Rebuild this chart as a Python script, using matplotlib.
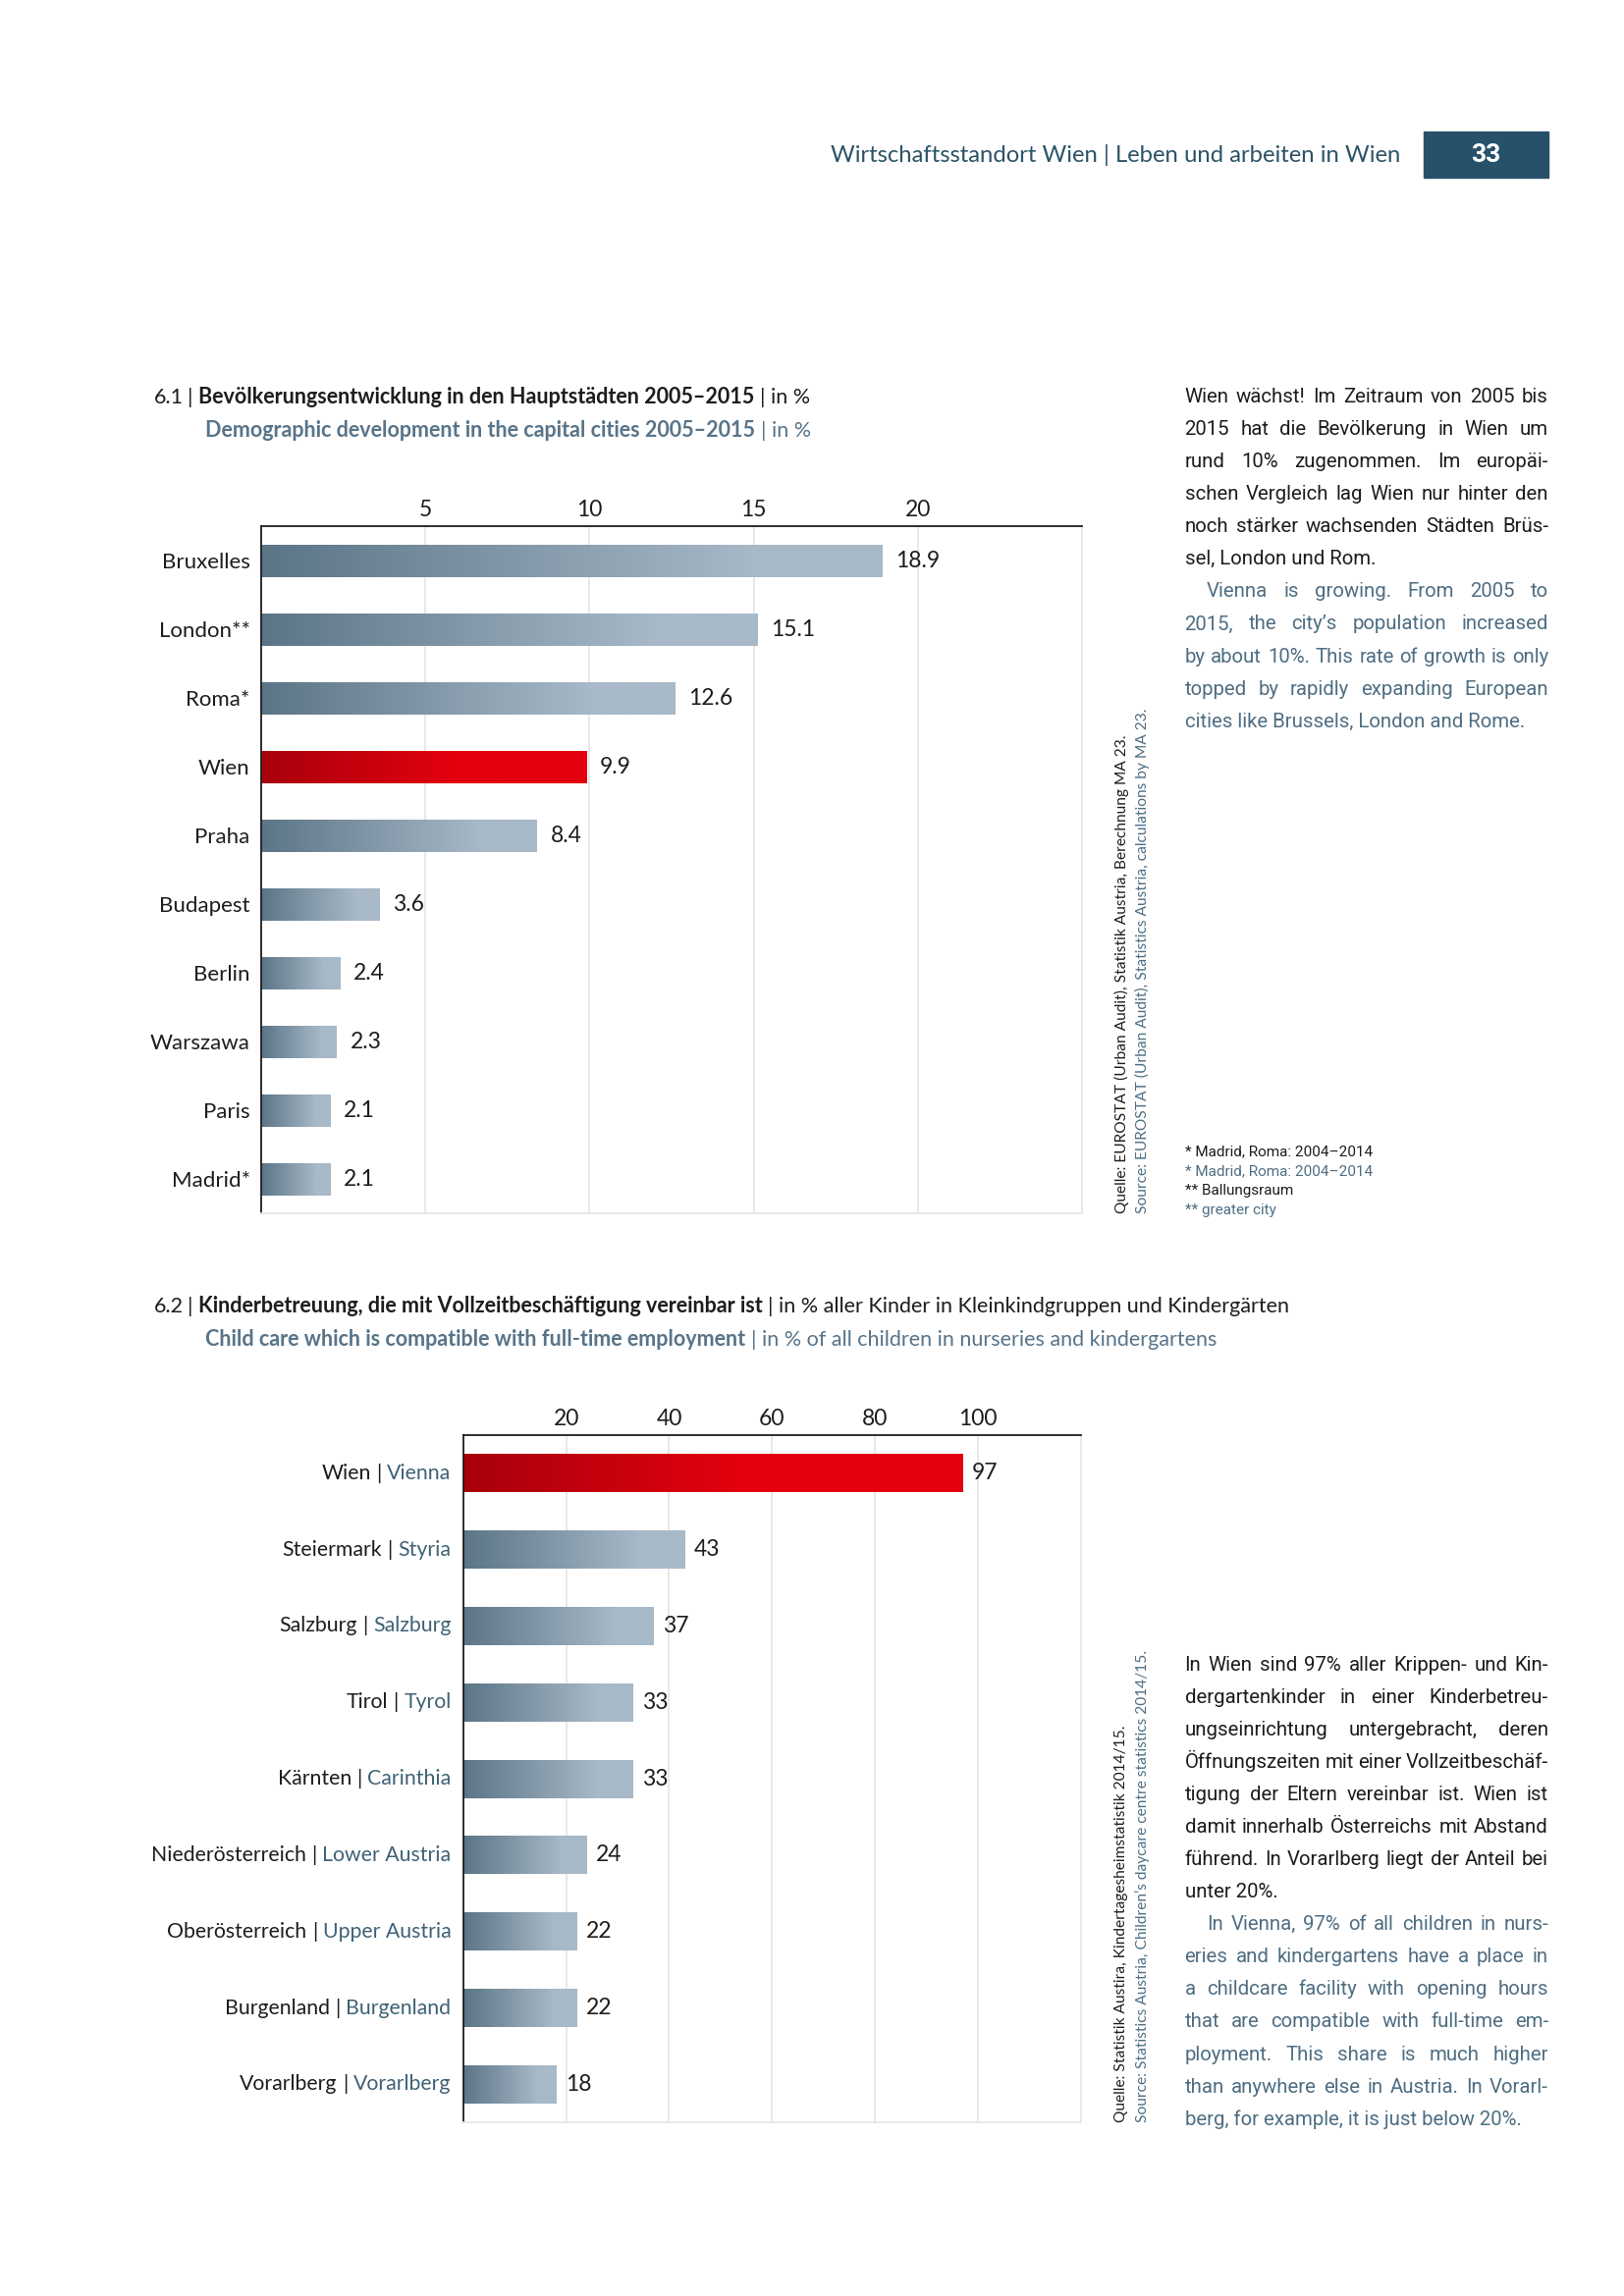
import numpy as np
import matplotlib
matplotlib.use("Agg")
import matplotlib.pyplot as plt
from matplotlib.colors import to_rgb
from matplotlib.patches import Rectangle
from matplotlib.transforms import offset_copy

# --- data -------------------------------------------------------------
cities = ["Bruxelles", "London**", "Roma*", "Wien", "Praha", "Budapest",
          "Berlin", "Warszawa", "Paris", "Madrid*"]
growth = [18.9, 15.1, 12.6, 9.9, 8.4, 3.6, 2.4, 2.3, 2.1, 2.1]
ticks1 = [5, 10, 15, 20]

states_de = ["Wien", "Steiermark", "Salzburg", "Tirol", "Kärnten",
             "Niederösterreich", "Oberösterreich", "Burgenland", "Vorarlberg"]
states_en = ["Vienna", "Styria", "Salzburg", "Tyrol", "Carinthia",
             "Lower Austria", "Upper Austria", "Burgenland", "Vorarlberg"]
childcare = [97, 43, 37, 33, 33, 24, 22, 22, 18]
ticks2 = [20, 40, 60, 80, 100]

text1_de = ["Wien wächst! Im Zeitraum von 2005 bis",
            "2015 hat die Bevölkerung in Wien um",
            "rund 10% zugenommen. Im europäi-",
            "schen Vergleich lag Wien nur hinter den",
            "noch stärker wachsenden Städten Brüs-",
            "sel, London und Rom."]
text1_en = ["Vienna is growing. From 2005 to",
            "2015, the city’s population increased",
            "by about 10%. This rate of growth is only",
            "topped by rapidly expanding European",
            "cities like Brussels, London and Rome."]
text2_de = ["In Wien sind 97% aller Krippen- und Kin-",
            "dergartenkinder in einer Kinderbetreu-",
            "ungseinrichtung untergebracht, deren",
            "Öffnungszeiten mit einer Vollzeitbeschäf-",
            "tigung der Eltern vereinbar ist. Wien ist",
            "damit innerhalb Österreichs mit Abstand",
            "führend. In Vorarlberg liegt der Anteil bei",
            "unter 20%."]
text2_en = ["In Vienna, 97% of all children in nurs-",
            "eries and kindergartens have a place in",
            "a childcare facility with opening hours",
            "that are compatible with full-time em-",
            "ployment. This share is much higher",
            "than anywhere else in Austria. In Vorarl-",
            "berg, for example, it is just below 20%."]

# --- style ------------------------------------------------------------
COND = ["Lato", "DejaVu Sans"]
BODY = ["Roboto", "DejaVu Sans"]
plt.rcParams["font.family"] = COND

BLACK = "#1d1d1b"
SLATE = "#587489"
SLATE_TXT = "#4f6e83"
LABEL_EN = "#3f6276"
HEAD = "#2c5468"
BOX = "#27516a"
GRID = "#e6e6e6"
GREY0, GREY1 = "#5b7587", "#a8b9c8"
RED0, RED1 = "#a8000c", "#e3000f"

K = 1.4933  # layout units -> pixels


def fx(x):
    return x * K / 1654


def fy(y):
    return 1 - y * K / 2339


fig = plt.figure(figsize=(16.54, 23.39), dpi=100)
bg = fig.add_axes([0, 0, 1, 1])
bg.axis("off")
bg.set_xlim(0, 1)
bg.set_ylim(0, 1)
renderer = fig.canvas.get_renderer()


def rich(x, y, parts, size):
    # parts: (text, color, weight, gap before in points)
    prev = None
    for text, color, weight, gap in parts:
        kw = dict(color=color, weight=weight, size=size)
        if prev is None:
            prev = bg.text(fx(x), fy(y), text, ha="left", va="baseline", **kw)
        else:
            prev = bg.annotate(text, xy=(1, 0), xycoords=prev, xytext=(gap, 0),
                               textcoords="offset points", ha="left", va="bottom", **kw)


def width_of(s, size):
    t = bg.text(0, 0, s, size=size, family=BODY)
    w = t.get_window_extent(renderer=renderer).width / K
    t.remove()
    return w


X0, X1 = 808, 1056
DY = 22.15


def paragraph(lines, y0, color, size, indent=0):
    for k, line in enumerate(lines):
        yb = fy(y0 + k * DY + 4.5)
        start = X0 + (indent if k == 0 else 0)
        words = line.split(" ")
        if k == len(lines) - 1:
            bg.text(fx(start), yb, line, color=color, size=size, family=BODY, va="baseline")
            continue
        ws = [width_of(w, size) for w in words]
        gap = (X1 - start - sum(ws)) / (len(words) - 1)
        x = start
        for w, wd in zip(words, ws):
            bg.text(fx(x), yb, w, color=color, size=size, family=BODY, va="baseline")
            x += wd + gap


def gradient_bar(ax, y, v, h, c0, c1, stop):
    t = np.clip(np.linspace(0, 1, 256) / stop, 0, 1)
    a, b = np.array(to_rgb(c0)), np.array(to_rgb(c1))
    img = (a + (b - a) * t[:, None])[None, :, :]
    ax.imshow(img, extent=(0, v, y + h / 2, y - h / 2), aspect="auto",
              interpolation="bilinear", zorder=2)


def style_axes(ax, xmax, ticks, n):
    ax.set_xlim(0, xmax)
    ax.set_ylim(n - 0.5, -0.5)
    ax.xaxis.tick_top()
    ax.set_xticks(ticks + [xmax])
    ax.set_xticklabels([str(t) for t in ticks] + [""])
    ax.tick_params(axis="x", length=0, pad=4.5, labelsize=16.5, labelcolor=BLACK)
    ax.grid(axis="x", color=GRID, lw=1.3)
    ax.set_axisbelow(True)
    for s in ["top", "left"]:
        ax.spines[s].set_color(BLACK)
        ax.spines[s].set_linewidth(1.3)
    for s in ["right", "bottom"]:
        ax.spines[s].set_color(GRID)
        ax.spines[s].set_linewidth(1.3)


# --- page header --------------------------------------------------------
bg.text(fx(955), fy(106), "Wirtschaftsstandort Wien | Leben und arbeiten in Wien",
        ha="right", va="center", size=17.2, color=HEAD)
bg.add_patch(Rectangle((fx(971), fy(121)), fx(1056) - fx(971), fy(90) - fy(121),
                       color=BOX, transform=bg.transAxes))
bg.text(fx(1013.5), fy(106), "33", ha="center", va="center", size=19,
        weight="bold", color="white", family=BODY)

# --- chart 6.1 ------------------------------------------------------------
rich(105, 275, [("6.1", BLACK, "normal", 0), ("|", BLACK, "normal", 3),
                ("Bevölkerungsentwicklung in den Hauptstädten 2005–2015", BLACK, "bold", 4),
                ("|", BLACK, "normal", 4), ("in %", BLACK, "normal", 4)], 15.5)
rich(140, 298, [("Demographic development in the capital cities 2005–2015", SLATE, "bold", 0),
                ("|", SLATE, "normal", 4), ("in %", SLATE, "normal", 4)], 15.5)

ax1 = fig.add_axes([fx(178), fy(828), fx(738) - fx(178), fy(359) - fy(828)])
for i, v in enumerate(growth):
    c0, c1, stop = (RED0, RED1, 0.6) if cities[i] == "Wien" else (GREY0, GREY1, 0.8)
    gradient_bar(ax1, i, v, 0.47, c0, c1, stop)
    ax1.annotate(f"{v:.1f}", xy=(v, i), xytext=(10, 0), textcoords="offset points",
                 va="center", ha="left", size=16.5, color=BLACK)
style_axes(ax1, 25, ticks1, len(cities))
ax1.set_yticks(range(len(cities)))
ax1.set_yticklabels(cities)
ax1.tick_params(axis="y", length=0, pad=8, labelsize=16, labelcolor=BLACK)

bg.text(fx(765), fy(828), "Quelle: EUROSTAT (Urban Audit), Statistik Austria, Berechnung MA 23.",
        rotation=90, ha="center", va="bottom", size=11.2, color=BLACK)
bg.text(fx(779), fy(828), "Source: EUROSTAT (Urban Audit), Statistics Austria, calculations by MA 23.",
        rotation=90, ha="center", va="bottom", size=11.2, color=SLATE_TXT)

# body size fitted so that even the tightest line keeps 60% of a normal space
space = width_of("n n", 14) - width_of("nn", 14)
natural = []
for lines, ind in [(text1_de, 0), (text1_en, 15), (text2_de, 0), (text2_en, 15)]:
    for k, line in enumerate(lines[:-1]):
        words = line.split(" ")
        w = sum(width_of(s, 14) for s in words) + 0.6 * space * (len(words) - 1)
        natural.append(w + (ind if k == 0 else 0))
body_size = 14 * (X1 - X0) / max(natural)

paragraph(text1_de, 270, BLACK, body_size)
paragraph(text1_en, 270 + 6 * DY, SLATE_TXT, body_size, indent=15)

notes = [("* Madrid, Roma: 2004–2014", BLACK), ("* Madrid, Roma: 2004–2014", SLATE_TXT),
         ("** Ballungsraum", BLACK), ("** greater city", SLATE_TXT)]
for k, (s, c) in enumerate(notes):
    bg.text(fx(808), fy(785 + k * 13.3 + 3.5), s, color=c, size=body_size * 0.75,
            family=BODY, va="baseline")

# --- chart 6.2 ------------------------------------------------------------
rich(105, 895, [("6.2", BLACK, "normal", 0), ("|", BLACK, "normal", 3),
                ("Kinderbetreuung, die mit Vollzeitbeschäftigung vereinbar ist", BLACK, "bold", 4),
                ("|", BLACK, "normal", 4),
                ("in % aller Kinder in Kleinkindgruppen und Kindergärten", BLACK, "normal", 4)], 15.5)
rich(140, 918, [("Child care which is compatible with full-time employment", SLATE, "bold", 0),
                ("|", SLATE, "normal", 4),
                ("in % of all children in nurseries and kindergartens", SLATE, "normal", 4)], 15.5)

ax2 = fig.add_axes([fx(316), fy(1448), fx(737) - fx(316), fy(979) - fy(1448)])
for i, v in enumerate(childcare):
    c0, c1, stop = (RED0, RED1, 0.55) if states_de[i] == "Wien" else (GREY0, GREY1, 0.8)
    gradient_bar(ax2, i, v, 0.5, c0, c1, stop)
    ax2.annotate(f"{v}", xy=(v, i), xytext=(7, 0), textcoords="offset points",
                 va="center", ha="left", size=16.5, color=BLACK)
style_axes(ax2, 120, ticks2, len(childcare))
ax2.set_yticks(range(len(childcare)))
ax2.set_yticklabels([])
ax2.tick_params(axis="y", length=0)

lab_tr = offset_copy(ax2.get_yaxis_transform(), fig=fig, x=-9, units="points")
for i, (de, en) in enumerate(zip(states_de, states_en)):
    t_en = ax2.text(0, i, en, transform=lab_tr, ha="right", va="center",
                    size=15.3, color=LABEL_EN)
    t_bar = ax2.annotate("|", xy=(0, 0.5), xycoords=t_en, xytext=(-4, 0),
                         textcoords="offset points", ha="right", va="center",
                         size=15.3, color=BLACK)
    ax2.annotate(de, xy=(0, 0.5), xycoords=t_bar, xytext=(-4, 0),
                 textcoords="offset points", ha="right", va="center",
                 size=15.3, color=BLACK)

bg.text(fx(765), fy(1448), "Quelle: Statistik Austira, Kindertagesheimstatistik 2014/15.",
        rotation=90, ha="center", va="bottom", size=11.2, color=BLACK)
bg.text(fx(779), fy(1448), "Source: Statistics Austria, Children’s daycare centre statistics 2014/15.",
        rotation=90, ha="center", va="bottom", size=11.2, color=SLATE_TXT)

paragraph(text2_de, 1135, BLACK, body_size)
paragraph(text2_en, 1135 + 8 * DY, SLATE_TXT, body_size, indent=15)

fig.savefig("out.png", dpi=100)
